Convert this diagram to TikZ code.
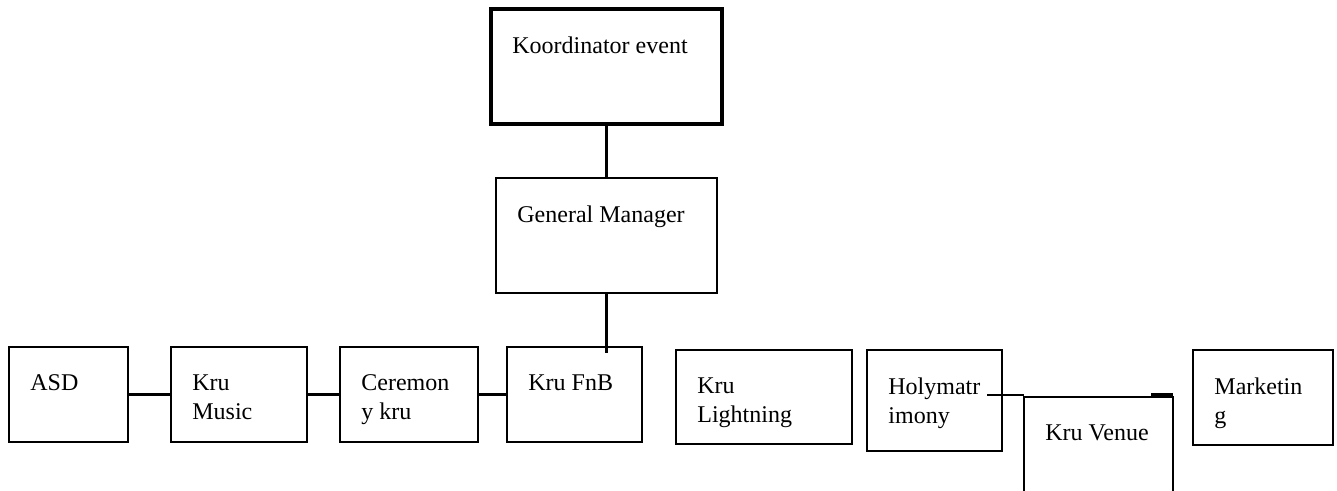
\documentclass[tikz,border=0pt]{standalone}
\usepackage{fontspec}
\setmainfont{Liberation Serif}
\usetikzlibrary{positioning, calc}

\begin{document}
\begin{tikzpicture}[
    x=0.5pt, y=-0.5pt,
    box/.style={rectangle, draw, line width=1.3pt, anchor=north west, inner sep=0pt, outer sep=0pt},
    txt/.style={anchor=north west, align=left, inner sep=0pt, xshift=10.5pt, yshift=-13.5pt, font=\fontsize{12}{14.5}\selectfont},
    conn/.style={line width=1.1pt}
]
\useasboundingbox (0,0) rectangle (1337,491);
\clip (0,0) rectangle (1337,491);

% Top of the chart
\node[box, line width=2pt, minimum width=115.5pt, minimum height=57.5pt,
      label={[txt]north west:Koordinator event}] (koord) at (491,9) {};
\node[box, minimum width=110.5pt, minimum height=57.5pt,
      label={[txt]north west:General Manager}] (gm) at (496,178) {};

% Crew row
\foreach \n/\x/\y/\w/\h/\lbl in {asd/9/347/119/95/ASD, music/171/347/136/95/{Kru\\Music},
    cere/340/347/138/95/{Ceremon\\y kru}, fnb/507/347/135/95/{Kru FnB},
    light/676/350/176/94/{Kru\\Lightning}, holy/867/350/135/101/{Holymatr\\imony},
    venue/1024/397/149/120/{Kru Venue}, mkt/1193/350/140/95/{Marketin\\g}} {
    \node[box, minimum width=\w*0.5pt, minimum height=\h*0.5pt,
          label={[txt]north west:\lbl}] (\n) at (\x,\y) {};
}

% Connectors
\draw[conn] (koord.south) -- (gm.north);
\draw[conn] (gm.south) -- ($(gm.south |- fnb.north)+(0,6)$);
\draw[conn] (asd.east) -- (music.west);
\draw[conn] (music.east) -- (cere.west);
\draw[conn] (cere.east) -- (fnb.west);
\draw[conn] ($(holy.east |- venue.north)+(-15,-2)$) -- ($(venue.north west)+(0,-2)$);
\draw[conn, line width=1.6pt] ($(venue.north east)+(-22,-2)$) coordinate (stub) -- ($(venue.north east)+(0,-2)$);

\end{tikzpicture}
\end{document}
